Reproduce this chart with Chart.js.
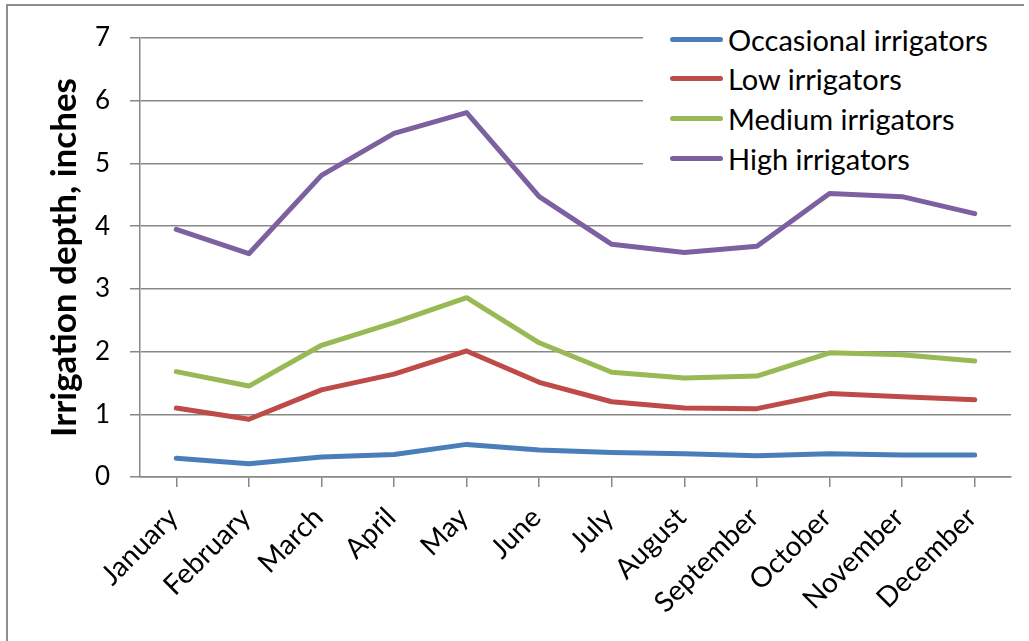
<!DOCTYPE html>
<html>
<head>
<meta charset="utf-8">
<script src="https://cdn.jsdelivr.net/npm/chart.js@4.4.1/dist/chart.umd.min.js"></script>
<style>
  html, body { margin: 0; padding: 0; background: #ffffff; }
  #wrap { position: relative; width: 1029px; height: 641px; overflow: hidden; }
  #legend {
    position: absolute; left: 643px; top: 18px; width: 368px; height: 168px;
    background: #ffffff; font-family: Lato, "Open Sans", sans-serif; font-size: 29px; color: #000;
  }
  .row { position: absolute; left: 0; height: 40px; display: flex; align-items: center; white-space: nowrap; }
  .swatch { width: 53px; height: 5px; border-radius: 3px; margin-left: 27px; margin-right: 5px; }
</style>
</head>
<body>
<div id="wrap">
  <canvas id="c" width="1029" height="641"></canvas>
  <div id="legend"></div>
</div>
<script>
const months = ["January","February","March","April","May","June","July","August","September","October","November","December"];
const occasionalIrrigators = [0.30, 0.21, 0.32, 0.36, 0.52, 0.43, 0.39, 0.37, 0.34, 0.37, 0.35, 0.35];
const lowIrrigators        = [1.10, 0.92, 1.39, 1.64, 2.01, 1.51, 1.20, 1.10, 1.09, 1.33, 1.28, 1.23];
const mediumIrrigators     = [1.68, 1.45, 2.10, 2.46, 2.86, 2.14, 1.67, 1.58, 1.61, 1.98, 1.95, 1.85];
const highIrrigators       = [3.95, 3.56, 4.81, 5.48, 5.81, 4.47, 3.71, 3.58, 3.68, 4.52, 4.47, 4.20];
const seriesNames = ["Occasional irrigators", "Low irrigators", "Medium irrigators", "High irrigators"];
const seriesColors = ["#4A7EBB", "#BE4B48", "#98B954", "#7D60A0"];
const yTickValues = [0, 1, 2, 3, 4, 5, 6, 7];
const yAxisTitle = "Irrigation depth, inches";

const allSeries = [occasionalIrrigators, lowIrrigators, mediumIrrigators, highIrrigators];
const gridColor = "#888888";

const frame = {
  id: "frame",
  beforeDraw(chart) {
    const ctx = chart.ctx;
    ctx.save();
    ctx.fillStyle = "#ffffff";
    ctx.fillRect(0, 0, chart.width, chart.height);
    ctx.strokeStyle = "#8e8e8e";
    ctx.lineWidth = 2;
    ctx.beginPath();
    ctx.moveTo(7, chart.height);
    ctx.lineTo(7, 5);
    ctx.lineTo(1024, 5);
    ctx.stroke();
    ctx.restore();
  }
};

const chart = new Chart(document.getElementById("c"), {
  type: "line",
  data: {
    labels: months,
    datasets: allSeries.map((d, i) => ({
      label: seriesNames[i],
      data: d,
      borderColor: seriesColors[i],
      backgroundColor: seriesColors[i],
      borderWidth: 5,
      borderCapStyle: "round",
      borderJoinStyle: "round",
      tension: 0,
      pointRadius: 0,
      fill: false
    }))
  },
  options: {
    responsive: false,
    animation: false,
    devicePixelRatio: 1,
    layout: { padding: { top: 38, right: 18, left: 0, bottom: 0 } },
    plugins: { legend: { display: false }, tooltip: { enabled: false } },
    scales: {
      x: {
        type: "category",
        offset: true,
        grid: { display: true, drawOnChartArea: false, drawTicks: true, tickLength: 10, color: gridColor, lineWidth: 1.5 },
        border: { display: true, color: gridColor, width: 1.5 },
        ticks: {
          autoSkip: false, maxRotation: 45, minRotation: 45, color: "#000",
          padding: 14, labelOffset: -3,
          font: { family: "Lato", size: 28 }
        },
        afterFit(s) { s.height = 164; }
      },
      y: {
        min: 0, max: 7,
        afterBuildTicks(s) { s.ticks = yTickValues.map(v => ({ value: v })); },
        grid: { color: gridColor, lineWidth: 1.5, tickLength: 10 },
        border: { display: true, color: gridColor, width: 1.5 },
        ticks: { color: "#000", padding: 20, font: { family: "Lato", size: 26 } },
        title: {
          display: true, text: yAxisTitle, color: "#000",
          font: { family: "Lato", size: 35, weight: "bold" },
          padding: { top: 44, bottom: 0 }
        },
        afterFit(s) { s.width = 140; }
      }
    }
  },
  plugins: [frame]
});

// HTML legend built from the dataset definitions
const legend = document.getElementById("legend");
chart.data.datasets.forEach((ds, i) => {
  const row = document.createElement("div");
  row.className = "row";
  row.style.top = (1 + i * 39.7) + "px";
  const sw = document.createElement("div");
  sw.className = "swatch";
  sw.style.background = ds.borderColor;
  const tx = document.createElement("span");
  tx.textContent = ds.label;
  row.appendChild(sw);
  row.appendChild(tx);
  legend.appendChild(row);
});
</script>
</body>
</html>
